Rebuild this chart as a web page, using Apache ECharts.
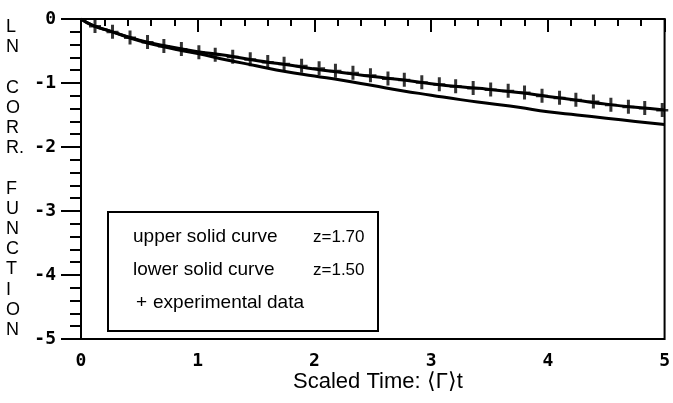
<!DOCTYPE html>
<html>
<head>
<meta charset="utf-8">
<script src="https://cdn.jsdelivr.net/npm/echarts@6/dist/echarts.min.js"></script>
<style>
  html, body { margin: 0; padding: 0; background: #fff; }
  #chart { width: 673px; height: 403px; }
</style>
</head>
<body>
<div id="chart"></div>
<script>
  // fitted curves
  var curveT = [0, 0.1, 0.25, 0.5, 0.75, 1.0, 1.25, 1.5, 1.75, 2.0, 2.25, 2.5, 2.75, 3.0, 3.25, 3.5, 3.75, 4.0, 4.25, 4.5, 4.75, 5.0];
  var upperZ170 = [0, -0.10, -0.19, -0.33, -0.43, -0.51, -0.57, -0.65, -0.71, -0.78, -0.84, -0.90, -0.95, -1.01, -1.06, -1.10, -1.15, -1.21, -1.27, -1.33, -1.38, -1.42];
  var lowerZ150 = [0, -0.10, -0.19, -0.34, -0.45, -0.54, -0.64, -0.73, -0.82, -0.89, -0.96, -1.04, -1.12, -1.19, -1.26, -1.32, -1.38, -1.45, -1.50, -1.55, -1.60, -1.65];

  // experimental points (+)
  var expT = [0.12, 0.27, 0.42, 0.57, 0.71, 0.86, 1.01, 1.15, 1.30, 1.45, 1.60, 1.74, 1.89, 2.04, 2.18, 2.33, 2.48, 2.63, 2.77, 2.92, 3.07, 3.21, 3.36, 3.51, 3.66, 3.80, 3.95, 4.10, 4.24, 4.39, 4.54, 4.69, 4.83, 4.98];
  var expVal = [-0.11, -0.20, -0.29, -0.36, -0.42, -0.47, -0.52, -0.56, -0.59, -0.63, -0.67, -0.70, -0.73, -0.77, -0.81, -0.84, -0.88, -0.93, -0.95, -0.99, -1.02, -1.05, -1.08, -1.10, -1.12, -1.15, -1.20, -1.23, -1.26, -1.29, -1.34, -1.37, -1.39, -1.42];

  var yTitle = ["L", "N", "", "C", "O", "R", "R.", "", "F", "U", "N", "C", "T", "I", "O", "N"];
  var xTitle = "Scaled Time: \u27E8\u0393\u27E9t";
  var legendLines = [
    ["upper solid curve", "z=1.70"],
    ["lower solid curve", "z=1.50"],
    ["+", "experimental data"]
  ];

  function zip(a, b) {
    return a.map(function (v, i) { return [v, b[i]]; });
  }

  var textFont = "Liberation Sans, Arial, sans-serif";
  var tickFont = "DejaVu Sans Mono, monospace";
  var plus = "path://M4.5,0 H7.5 V6 H12 V8.5 H7.5 V14 H4.5 V8.5 H0 V6 H4.5 Z";

  var chart = echarts.init(document.getElementById("chart"), null, { renderer: "canvas" });

  var graphics = [
    {
      type: "text", left: 6, top: 17,
      style: { text: yTitle.join("\n"), font: "18px " + textFont, fill: "#000", lineHeight: 20.2, align: "center", width: 18 }
    },
    {
      type: "text", left: 293, top: 371,
      style: { text: xTitle, font: "22px " + textFont, fill: "#000" }
    },
    {
      type: "rect", shape: { x: 108, y: 212, width: 270, height: 119 },
      style: { fill: "#fff", stroke: "#000", lineWidth: 2 }
    }
  ];
  legendLines.forEach(function (ln, i) {
    var y = 237 + i * 33;
    var isExp = ln[0] === "+";
    graphics.push({
      type: "text", x: isExp ? 136 : 133, y: y,
      style: { text: ln[0], font: "19px " + textFont, fill: "#000", verticalAlign: "middle" }
    });
    graphics.push({
      type: "text", x: isExp ? 153 : 313, y: y,
      style: { text: ln[1], font: (isExp ? "19px " : "17px ") + textFont, fill: "#000", verticalAlign: "middle" }
    });
  });

  var option = {
    animation: false,
    backgroundColor: "#fff",
    grid: { left: 81, right: 4, top: 19, bottom: 64, show: true, borderColor: "#000", borderWidth: 2, backgroundColor: "transparent" },
    xAxis: {
      type: "value", min: 0, max: 5, interval: 1,
      axisLine: { lineStyle: { color: "#000", width: 2 } },
      axisTick: { length: 13, lineStyle: { color: "#000", width: 2 } },
      minorTick: { show: true, splitNumber: 5, length: 7, lineStyle: { color: "#000", width: 2 } },
      splitLine: { show: false },
      axisLabel: { color: "#000", fontFamily: tickFont, fontWeight: "bold", fontSize: 18, margin: 13 }
    },
    yAxis: {
      type: "value", min: -5, max: 0, interval: 1,
      axisLine: { show: true, lineStyle: { color: "#000", width: 2 } },
      axisTick: { show: true, length: 20, lineStyle: { color: "#000", width: 2 } },
      minorTick: { show: true, splitNumber: 5, length: 11, lineStyle: { color: "#000", width: 2 } },
      splitLine: { show: false },
      axisLabel: { color: "#000", fontFamily: tickFont, fontWeight: "bold", fontSize: 18, margin: 25 }
    },
    series: [
      {
        name: "upper", type: "line", data: zip(curveT, upperZ170), smooth: true, showSymbol: false,
        lineStyle: { color: "#000", width: 3 }
      },
      {
        name: "lower", type: "line", data: zip(curveT, lowerZ150), smooth: true, showSymbol: false,
        lineStyle: { color: "#000", width: 3 }
      },
      {
        name: "experimental", type: "scatter", data: zip(expT, expVal),
        symbol: plus, symbolSize: [12, 14],
        itemStyle: { color: "#000" }
      }
    ],
    graphic: graphics
  };

  chart.setOption(option);
</script>
</body>
</html>
